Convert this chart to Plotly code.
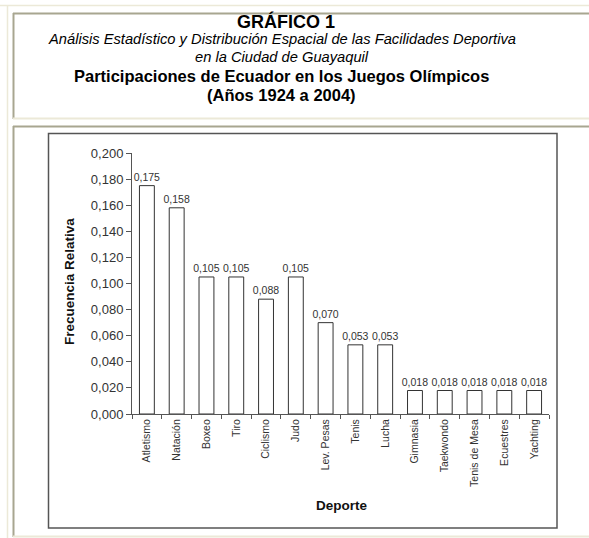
import plotly.graph_objects as go

# =====================================================================
# Datos
deportes = ["Atletismo", "Natación", "Boxeo", "Tiro", "Ciclismo", "Judo",
            "Lev. Pesas", "Tenis", "Lucha", "Gimnasia", "Taekwondo",
            "Tenis de Mesa", "Ecuestres", "Yachting"]
frecuencia = [0.175, 0.158, 0.105, 0.105, 0.088, 0.105, 0.070,
              0.053, 0.053, 0.018, 0.018, 0.018, 0.018, 0.018]
etiquetas = [f"{v:.3f}".replace(".", ",") for v in frecuencia]

titulo = "GRÁFICO 1"
subtitulo_1 = "Análisis Estadístico y Distribución Espacial de las Facilidades Deportiva"
subtitulo_2 = "en la Ciudad de Guayaquil"
titulo_2 = "Participaciones de Ecuador en los Juegos Olímpicos"
titulo_3 = "(Años 1924 a 2004)"

FONT = "Arial, Liberation Sans, sans-serif"
W, H = 589, 538
L, R, T, B = 132, 40, 153, 124
PW, PH = W - L - R, H - T - B


# pixel -> paper
def px(x):
    return (x - L) / PW


def py(y):
    return (H - B - y) / PH


OSCURO = "#a8a690"
CLARO = "#ece9d8"

# =====================================================================
fig = go.Figure()
fig.add_trace(go.Bar(
    x=deportes, y=frecuencia,
    text=etiquetas, textposition="outside", cliponaxis=False,
    constraintext="none",
    textfont=dict(size=10.5, color="#333", family=FONT),
    marker=dict(color="white", line=dict(color="#333", width=1)),
    hoverinfo="x+y",
))

shapes = []
# marco exterior
shapes.append(dict(type="line", x0=px(0), x1=px(W), y0=py(5.5), y1=py(5.5), line=dict(color=CLARO, width=1.5)))
shapes.append(dict(type="line", x0=px(7.5), x1=px(7.5), y0=py(5), y1=py(H), line=dict(color=CLARO, width=1.5)))
# celda del encabezado
shapes.append(dict(type="line", x0=px(13), x1=px(W), y0=py(13.5), y1=py(13.5), line=dict(color=OSCURO, width=2)))
shapes.append(dict(type="line", x0=px(13.5), x1=px(13.5), y0=py(13), y1=py(119), line=dict(color=OSCURO, width=2)))
shapes.append(dict(type="line", x0=px(13), x1=px(W), y0=py(118.5), y1=py(118.5), line=dict(color=CLARO, width=2)))
# celda del gráfico
shapes.append(dict(type="line", x0=px(13), x1=px(W), y0=py(126.5), y1=py(126.5), line=dict(color=OSCURO, width=2)))
shapes.append(dict(type="line", x0=px(13.5), x1=px(13.5), y0=py(126), y1=py(537), line=dict(color=OSCURO, width=2)))
shapes.append(dict(type="line", x0=px(13), x1=px(W), y0=py(536.5), y1=py(536.5), line=dict(color=CLARO, width=2)))
# recuadro de la imagen
shapes.append(dict(type="rect", x0=px(48.5), x1=px(557), y0=py(133.5), y1=py(528),
                   line=dict(color="#555", width=1.5), fillcolor="rgba(0,0,0,0)", layer="below"))
for s in shapes:
    s.update(xref="paper", yref="paper")

annotations = [
    dict(text=f"<b>{titulo}</b>", x=px(286), y=py(21), font=dict(size=18, color="black")),
    dict(text=f"<i>{subtitulo_1}</i>", x=px(282), y=py(39), font=dict(size=14.7, color="black")),
    dict(text=f"<i>{subtitulo_2}</i>", x=px(282), y=py(57), font=dict(size=14.7, color="black")),
    dict(text=f"<b>{titulo_2}</b>", x=px(281), y=py(76), font=dict(size=16.5, color="black")),
    dict(text=f"<b>{titulo_3}</b>", x=px(281), y=py(95), font=dict(size=16.5, color="black")),
    dict(text="<b>Frecuencia Relativa</b>", x=px(69), y=py(282), textangle=-90,
         font=dict(size=13.5, color="#111")),
    dict(text="<b>Deporte</b>", x=px(341), y=py(506), font=dict(size=13.5, color="#111")),
]
for a in annotations:
    a.update(xref="paper", yref="paper", showarrow=False, xanchor="center", yanchor="middle")
    a["font"]["family"] = FONT

fig.update_layout(
    width=W, height=H,
    margin=dict(l=L, r=R, t=T, b=B),
    paper_bgcolor="white", plot_bgcolor="white",
    separators=",.",
    bargap=0.5,
    showlegend=False,
    font=dict(family=FONT, color="#333"),
    shapes=shapes,
    annotations=annotations,
)
fig.update_xaxes(
    showline=True, linecolor="#555", linewidth=1,
    ticks="outside", tickson="boundaries", ticklen=4, tickcolor="#555",
    tickangle=-90, tickfont=dict(size=10.5, color="#333"),
    showgrid=False,
)
fig.update_yaxes(
    range=[0, 0.2], dtick=0.02, tickformat=".3f",
    showline=True, linecolor="#555", linewidth=1,
    ticks="outside", ticklen=5, tickcolor="#555",
    tickfont=dict(size=13, color="#333"),
    showgrid=False, zeroline=False,
)

fig.write_html("out.html", config={"displayModeBar": False},
               post_script="document.body.style.margin='0px';")
